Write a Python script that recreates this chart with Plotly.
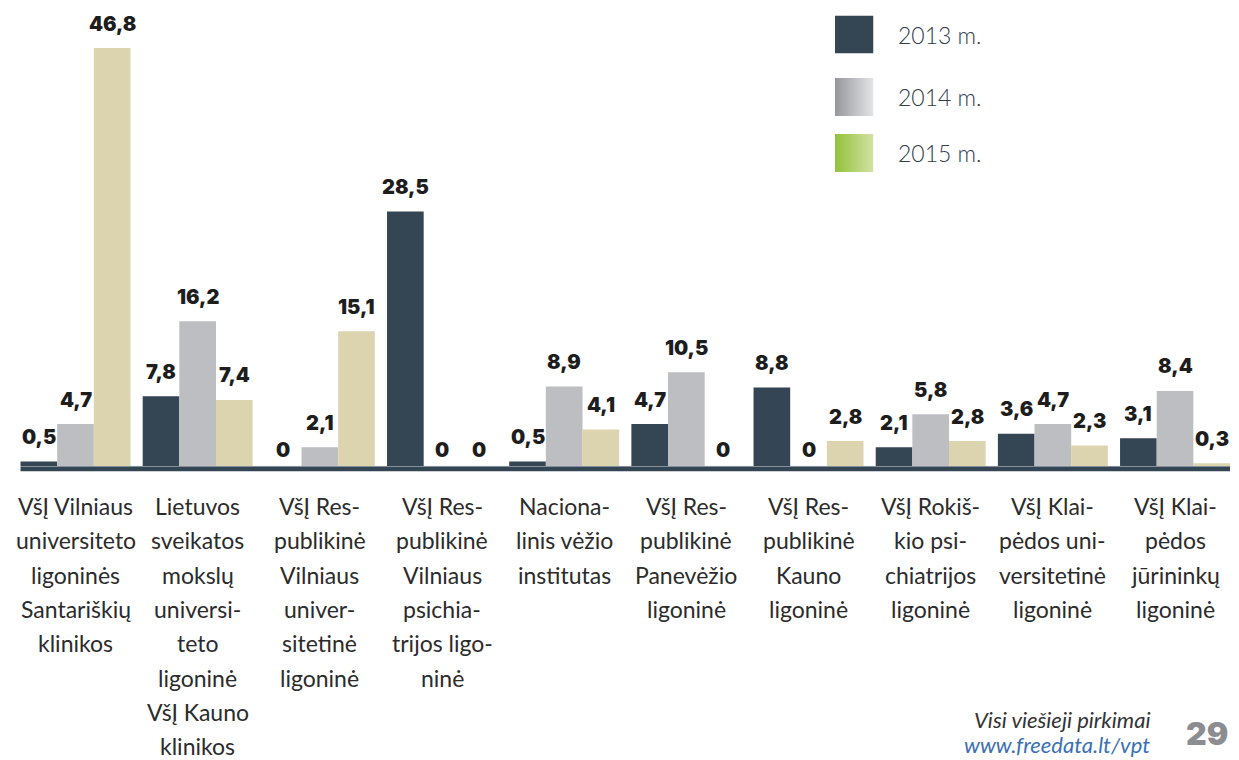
import base64
import plotly.graph_objects as go

# ---------------- data ----------------
categories = [
    ["VšĮ Vilniaus", "universiteto", "ligoninės", "Santariškių", "klinikos"],
    ["Lietuvos", "sveikatos", "mokslų", "universi-", "teto", "ligoninė", "VšĮ Kauno", "klinikos"],
    ["VšĮ Res-", "publikinė", "Vilniaus", "univer-", "sitetinė", "ligoninė"],
    ["VšĮ Res-", "publikinė", "Vilniaus", "psichia-", "trijos ligo-", "ninė"],
    ["Naciona-", "linis vėžio", "institutas"],
    ["VšĮ Res-", "publikinė", "Panevėžio", "ligoninė"],
    ["VšĮ Res-", "publikinė", "Kauno", "ligoninė"],
    ["VšĮ Rokiš-", "kio psi-", "chiatrijos", "ligoninė"],
    ["VšĮ Klai-", "pėdos uni-", "versitetinė", "ligoninė"],
    ["VšĮ Klai-", "pėdos", "jūrininkų", "ligoninė"],
]
series_names = ["2013 m.", "2014 m.", "2015 m."]
values_2013 = [0.5, 7.8, 0, 28.5, 0.5, 4.7, 8.8, 2.1, 3.6, 3.1]
values_2014 = [4.7, 16.2, 2.1, 0, 8.9, 10.5, 0, 5.8, 4.7, 8.4]
values_2015 = [46.8, 7.4, 15.1, 0, 4.1, 0, 2.8, 2.8, 2.3, 0.3]
footer_title = "Visi viešieji pirkimai"
footer_url = "www.freedata.lt/vpt"
page_number = "29"

# ---------------- style ----------------
W, H = 1239, 760
bar_colors = ["#344553", "#bdbec2", "#dcd4ae"]
legend_grad = [("#344553", "#344553"), ("#95979c", "#e4e5e7"), ("#93c23a", "#d2e2a4")]
label_font = dict(family="Inter", size=20, color="#1d1d1d", weight=900)
cat_font = dict(family="Lato", size=23, color="#2b2b2b")

n = len(categories)
x = list(range(n))
series = [values_2013, values_2014, values_2015]

fig = go.Figure()
for name, vals, col in zip(series_names, series, bar_colors):
    fig.add_trace(go.Bar(
        x=x, y=vals, name=name, marker=dict(color=col, line=dict(width=0)),
        hoverinfo="x+y", showlegend=False,
    ))

# px mapping: category center i -> 75.5 + 122.17*i ; value 0 -> 466 px, 8.93 px/unit
unit_x = 122.17
x0_px = 75.5
xmin = -x0_px / unit_x
xmax = xmin + W / unit_x
py = 8.93
ymax = 466 / py
ymin = -(H - 466) / py

bar_w_px = 110 / 3
annotations = []
for s, vals in enumerate(series):
    for i, v in enumerate(vals):
        annotations.append(dict(
            x=i, y=v, xref="x", yref="y", text=f"{v:g}".replace(".", ","),
            showarrow=False, xshift=(s - 1) * bar_w_px, yshift=16 if v == 0 else 24.5,
            yanchor="middle", xanchor="center", font=label_font,
        ))

# category labels, one annotation per line
for i, lines in enumerate(categories):
    for k, line in enumerate(lines):
        annotations.append(dict(
            x=i, y=0, xref="x", yref="y", text=line, showarrow=False,
            yanchor="middle", xanchor="center", yshift=-(40 + 34.3 * k),
            font=cat_font,
        ))

# legend
leg_y = [34.5, 97, 153]
images = []
for k, (name, (c1, c2)) in enumerate(zip(series_names, legend_grad)):
    svg = (f'<svg xmlns="http://www.w3.org/2000/svg" width="38" height="38">'
           f'<defs><linearGradient id="g" x1="0" y1="0" x2="1" y2="0">'
           f'<stop offset="0" stop-color="{c1}"/><stop offset="1" stop-color="{c2}"/>'
           f'</linearGradient></defs><rect width="38" height="38" fill="url(#g)"/></svg>')
    src = "data:image/svg+xml;base64," + base64.b64encode(svg.encode()).decode()
    images.append(dict(
        source=src, xref="paper", yref="paper", x=835 / W, y=1 - (leg_y[k] - 19) / H,
        sizex=38.5 / W, sizey=38 / H, xanchor="left", yanchor="top", sizing="stretch",
        layer="above",
    ))
    annotations.append(dict(
        x=896 / W, y=1 - leg_y[k] / H, xref="paper", yref="paper", text=name,
        showarrow=False, xanchor="left", yanchor="middle",
        font=dict(family="Lato", size=23, color="#2f3c4a", weight=300),
    ))

# footer
annotations += [
    dict(x=1152 / W, y=1 - 719 / H, xref="paper", yref="paper", text=footer_title,
         showarrow=False, xanchor="right", yanchor="middle",
         font=dict(family="Lato", size=22, color="#333333", style="italic")),
    dict(x=1152 / W, y=1 - 744 / H, xref="paper", yref="paper", text=footer_url,
         showarrow=False, xanchor="right", yanchor="middle",
         font=dict(family="Lato", size=22, color="#3a70b5", style="italic")),
    dict(x=1207 / W, y=1 - 733 / H, xref="paper", yref="paper", text=page_number,
         showarrow=False, xanchor="center", yanchor="middle",
         font=dict(family="Inter", size=32, color="#8b8d91", weight=900)),
]

shapes = [
    dict(type="rect", xref="x", yref="y", x0=-0.45, x1=n - 1 + 0.45, y0=-0.1, y1=-0.6,
         fillcolor="#344553", line=dict(width=0), layer="below"),
    dict(type="line", xref="x", yref="y", x0=-0.45, x1=n - 1 + 0.45, y0=-0.05, y1=-0.05,
         line=dict(color="#7d8a95", width=1), layer="below"),
]

fig.update_layout(
    width=W, height=H, margin=dict(l=0, r=0, t=0, b=0),
    paper_bgcolor="white", plot_bgcolor="white",
    barmode="group", bargap=0.1, bargroupgap=0,
    xaxis=dict(range=[xmin, xmax], visible=False, fixedrange=True),
    yaxis=dict(range=[ymin, ymax], visible=False, fixedrange=True),
    annotations=annotations, shapes=shapes, images=images, showlegend=False,
)

fig.write_html("out.html", config={"displayModeBar": False},
               post_script="document.body.style.margin='0';")
